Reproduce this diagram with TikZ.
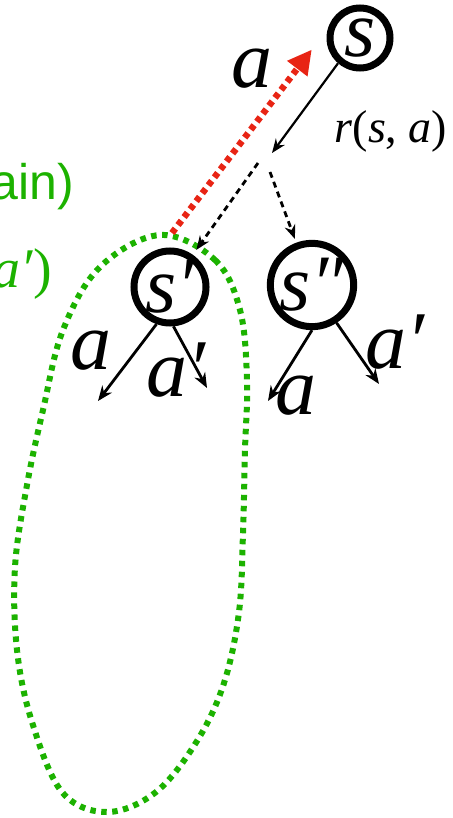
\documentclass[tikz,border=0pt]{standalone}
\usepackage{fontspec}
\setmainfont{Liberation Serif}
\newfontfamily\tms{Liberation Serif}
\newfontfamily\sansf{Liberation Sans}
\usetikzlibrary{arrows.meta}
\definecolor{grn}{RGB}{28,178,0}
\definecolor{redd}{RGB}{232,36,20}
\tikzset{
  state/.style={circle, draw, line width=7pt, minimum size=60pt, inner sep=0pt,
    font=\tms\fontsize{80}{80}\selectfont\itshape},
  lbl/.style={inner sep=0pt, font=\tms\fontsize{82}{82}\selectfont\itshape},
  solidarrow/.style={line width=2.2pt, -{Stealth[length=14pt,width=11pt]}},
  brancharrow/.style={line width=2.8pt, -{Stealth[length=15pt,width=12pt]}},
  dasharrow/.style={line width=2.8pt, dash pattern=on 6pt off 4.5pt, -{Stealth[length=14pt,width=11pt]}},
  reddot/.style={redd, line width=6.5pt, dash pattern=on 5.5pt off 4.5pt,
    -{Triangle[length=24pt,width=24pt]}},
  grndot/.style={grn, line width=6pt, dash pattern=on 5.5pt off 5.5pt},
}
\begin{document}
\begin{tikzpicture}[x=1pt,y=-1pt]
\useasboundingbox (0,0) rectangle (452,818);
% green loop
\draw[grndot] plot[smooth cycle, tension=0.6] coordinates {
 (160,235) (215,260) (240,310) (247,380) (245,450) (243,533) (239,612)
 (224,683) (197,741) (156,792) (107,812) (62,792) (32,722) (17,650)
 (15,567) (27,485) (43,410) (63,330) (100,267)};
% states
\node[state] (s) at (360,38) {s};
\node[state] (sp) at (170,287) {s′};
\node[state] (spp) at (312,285) {s″};
% coordinates
\coordinate (rstart) at (172,233);
\coordinate (rr) at (272,153);
\coordinate (d1) at (258,163);
\coordinate (d2) at (270,172);
\coordinate (e1) at (98,401);
\coordinate (e2) at (207,388);
\coordinate (e3) at (268,401);
\coordinate (e4) at (379,384);
% red dotted arrow
\draw[reddot, shorten >=2pt] (rstart) -- (313,48) coordinate (redtip);
% arrows
\draw[solidarrow] (s.229) -- (rr);
\draw[dasharrow, shorten >=6pt] (d1) -- (sp);
\draw[dasharrow, shorten >=4pt] (d2) -- (spp);
\draw[brancharrow] (sp.250) -- (e1);
\draw[brancharrow] (sp.275) -- (e2);
\draw[brancharrow] (spp.270) -- (e3);
\draw[brancharrow] (spp.303) -- (e4);
% labels
\node[lbl] (la) at (252,69) {a};
\node[inner sep=0pt, font=\tms\fontsize{46}{46}\selectfont] (lr) at (391,131) {\textit{r}(\textit{s}, \textit{a})};
\node[lbl] (l1) at (91,351) {a};
\node[lbl] (l2) at (176,370) {a′};
\node[lbl] (l3) at (296,396) {a};
\node[lbl] (l4) at (395,342) {a′};
% clipped green texts
\node[grn, inner sep=0pt, anchor=base east, font=\sansf\fontsize{50}{50}\selectfont] (g1) at (74,200) {ain)};
\node[grn, inner sep=0pt, anchor=base east, font=\tms\fontsize{56}{56}\selectfont] (g2) at (52,287) {\textit{a′})};
\end{tikzpicture}
\end{document}
